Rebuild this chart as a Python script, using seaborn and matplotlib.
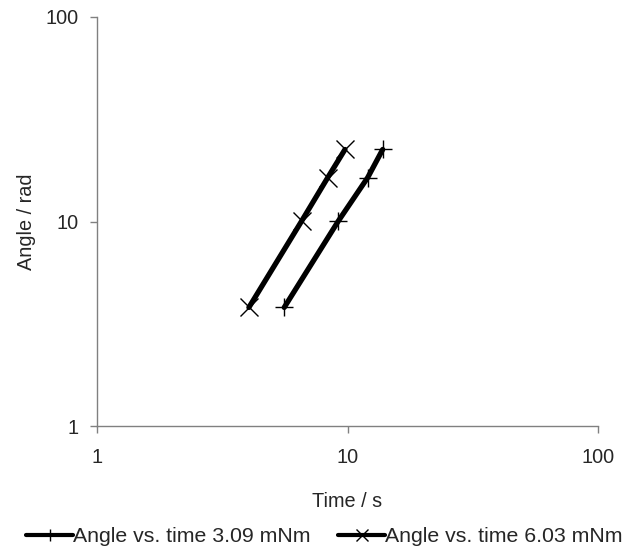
import matplotlib
matplotlib.use("Agg")
import matplotlib.pyplot as plt
import seaborn as sns
import pandas as pd
from matplotlib.lines import Line2D

time_309 = [5.59, 9.19, 12.04, 13.82]
angle_309 = [3.8, 10.05, 16.4, 22.5]
time_603 = [4.04, 6.56, 8.34, 9.77]
angle_603 = [3.8, 10.05, 16.4, 22.5]
labels = ["Angle vs. time 3.09 mNm", "Angle vs. time 6.03 mNm"]
tick_vals = [1, 10, 100]
tick_labels = ["1", "10", "100"]

sns.set_style("white")
plt.rcParams['font.family'] = ['Liberation Sans', 'DejaVu Sans']

df = pd.DataFrame({
    "time": time_309 + time_603,
    "angle": angle_309 + angle_603,
    "series": [labels[0]] * len(time_309) + [labels[1]] * len(time_603),
})

fig = plt.figure(figsize=(6.36, 5.51), dpi=100)
ax = fig.add_axes([97/636, 1 - 426/551, 501/636, 409/551])

sns.lineplot(data=df, x="time", y="angle", hue="series", style="series",
             palette=["black", "black"], markers={labels[0]: "+", labels[1]: "x"},
             dashes=False, linewidth=3.8, markersize=12.5, markeredgewidth=1.0,
             markeredgecolor="black", ax=ax, sort=False, legend=False)

ax.set_xscale("log")
ax.set_yscale("log")
ax.set_xlim(1, 100)
ax.set_ylim(1, 100)
ax.set_xticks(tick_vals)
ax.set_xticklabels(tick_labels)
ax.set_yticks(tick_vals)
ax.set_yticklabels(tick_labels)
ax.minorticks_off()
ax.tick_params(axis="both", which="major", direction="out", length=5, width=1,
               color="#808080", labelsize=14.3, bottom=True, left=True)
ax.tick_params(axis="x", pad=11)
ax.tick_params(axis="y", pad=8)
for s in ["top", "right"]:
    ax.spines[s].set_visible(False)
for s in ["left", "bottom"]:
    ax.spines[s].set_color("#808080")
    ax.spines[s].set_linewidth(1)
ax.set_xlabel("Time / s", fontsize=14.3, labelpad=18)
ax.set_ylabel("Angle / rad", fontsize=14.3, labelpad=7)

handles = [Line2D([], [], color="black", lw=3, marker=m, markersize=9,
                  markeredgewidth=1.0) for m in ["+", "x"]]
fig.legend(handles, labels, loc="center", bbox_to_anchor=(0.51, 1 - 537/551),
           ncol=2, frameon=False, fontsize=15.3, numpoints=1, handlelength=2.2,
           handletextpad=0.0, columnspacing=1.3, borderaxespad=0)

fig.savefig("out.png", dpi=100)
